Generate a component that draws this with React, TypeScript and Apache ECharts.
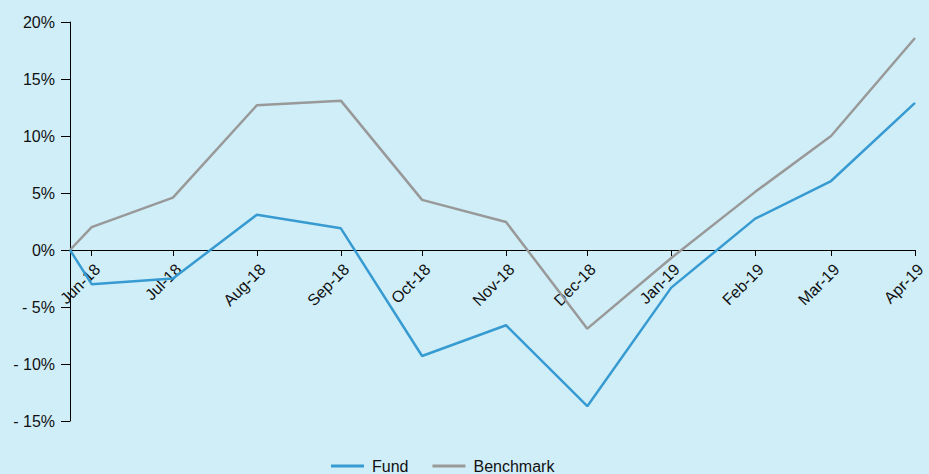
import React, { useEffect, useRef } from "react";
import * as echarts from "echarts";

const startDate = "2018-06-22";
const pointDates = [
  "2018-06-30", "2018-07-30", "2018-08-30", "2018-09-30", "2018-10-30",
  "2018-11-30", "2018-12-30", "2019-01-30", "2019-03-02", "2019-03-30", "2019-04-30",
];
const categories = [
  "Jun-18", "Jul-18", "Aug-18", "Sep-18", "Oct-18", "Nov-18",
  "Dec-18", "Jan-19", "Feb-19", "Mar-19", "Apr-19",
];
const fundValues = [0, -3.0, -2.5, 3.1, 1.9, -9.3, -6.6, -13.7, -3.3, 2.75, 6.05, 12.9];
const benchmarkValues = [0, 2.0, 4.6, 12.7, 13.1, 4.4, 2.45, -6.9, -0.7, 5.1, 10.0, 18.6];
const yTicks = { min: -15, max: 20, interval: 5 };

const TEXT = "#111111";
const FONT = "'Liberation Sans', Arial, sans-serif";

export default function App() {
  const ref = useRef<HTMLDivElement>(null);
  useEffect(() => {
    if (!ref.current) return;
    const chart = echarts.init(ref.current, undefined, { renderer: "svg" });
    const ts = (d: string) => Date.parse(d + "T00:00:00Z");
    const allTs = [startDate, ...pointDates].map(ts);
    const tickTs = pointDates.map(ts);
    const labelByTs: Record<number, string> = {};
    tickTs.forEach((t, i) => (labelByTs[t] = categories[i]));
    const build = (vals: number[]) => allTs.map((t, i) => [t, vals[i]]);
    const gridTop = 22;
    const gridBottom = 53;
    const plotH = 474 - gridTop - gridBottom;
    const zeroOffset = -plotH * (0 - yTicks.min) / (yTicks.max - yTicks.min);
    chart.setOption({
      animation: false,
      backgroundColor: "#cfeef8",
      textStyle: { fontFamily: FONT },
      grid: { left: 70, right: 14, top: gridTop, bottom: gridBottom, outerBoundsMode: "none", containLabel: false },
      legend: {
        left: 326,
        top: 453,
        icon: "rect",
        itemWidth: 33,
        itemHeight: 3,
        itemGap: 24,
        textStyle: { color: TEXT, fontSize: 16, fontFamily: FONT, padding: [0, 0, 0, 3] },
        data: ["Fund", "Benchmark"],
      },
      xAxis: {
        type: "value",
        position: "bottom",
        offset: zeroOffset,
        min: allTs[0],
        max: allTs[allTs.length - 1],
        axisLine: { show: true, onZero: false, lineStyle: { color: "#000", width: 1 } },
        axisTick: {
          show: true,
          length: 6,
          customValues: tickTs,
          lineStyle: { color: "#000" },
        },
        axisLabel: {
          customValues: tickTs,
          rotate: 45,
          margin: 11,
          verticalAlign: "top",
          color: TEXT,
          fontSize: 16,
          fontFamily: FONT,
          hideOverlap: false,
          showMinLabel: true,
          showMaxLabel: true,
          formatter: (v: number) => labelByTs[v] ?? "",
        },
        splitLine: { show: false },
      },
      yAxis: {
        type: "value",
        min: yTicks.min,
        max: yTicks.max,
        interval: yTicks.interval,
        axisLine: { show: true, lineStyle: { color: "#000", width: 1 } },
        axisTick: { show: true, length: 9, lineStyle: { color: "#000" } },
        axisLabel: {
          margin: 15,
          color: TEXT,
          fontSize: 16,
          fontFamily: FONT,
          formatter: (v: number) => (v < 0 ? `- ${-v}%` : `${v}%`),
        },
        splitLine: { show: false },
      },
      series: [
        {
          name: "Fund",
          type: "line",
          data: build(fundValues),
          symbol: "none",
          lineStyle: { color: "#379bd2", width: 2.5 },
          itemStyle: { color: "#379bd2" },
          z: 3,
        },
        {
          name: "Benchmark",
          type: "line",
          data: build(benchmarkValues),
          symbol: "none",
          lineStyle: { color: "#999999", width: 2.5 },
          itemStyle: { color: "#999999" },
          z: 2,
        },
      ],
    });
    return () => chart.dispose();
  }, []);
  return (
    <div
      ref={ref}
      style={{ position: "fixed", left: 0, top: 0, width: 929, height: 474 }}
    />
  );
}
